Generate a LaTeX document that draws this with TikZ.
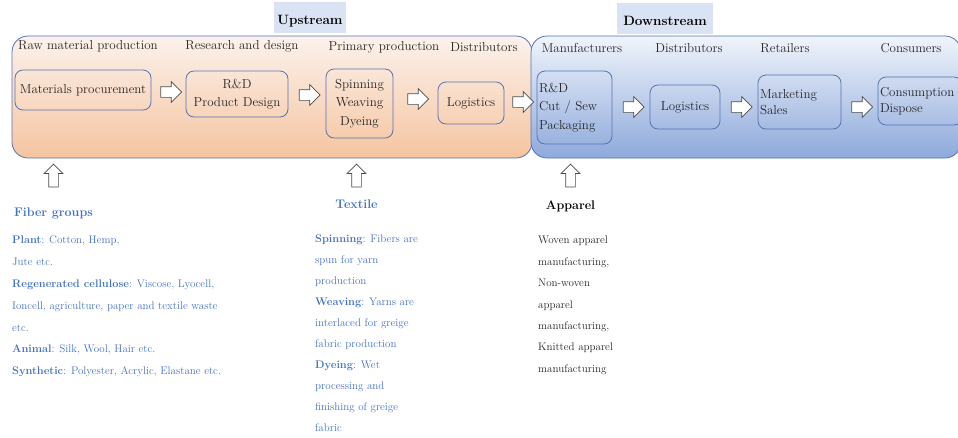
\documentclass[tikz,border=0pt]{standalone}
\usepackage{fontspec}
\usetikzlibrary{shapes.arrows,calc}

\definecolor{boxblue}{RGB}{84,116,178}
\definecolor{txtblue}{RGB}{68,114,196}
\definecolor{tagblue}{RGB}{218,227,243}
\definecolor{peachtop}{RGB}{252,242,236}
\definecolor{peachbot}{RGB}{245,196,160}
\definecolor{bluetop}{RGB}{240,244,251}
\definecolor{bluebot}{RGB}{142,169,219}

\tikzset{
  stream/.style={draw=boxblue,line width=0.8pt,rounded corners=16pt,inner sep=0pt},
  stage/.style={font=\fontsize{13}{16}\selectfont,text=black!85,inner sep=0pt},
  stepbox/.style={draw=boxblue,line width=0.8pt,rounded corners=8pt,align=center,
    text=black!85,font=\fontsize{13}{17.5}\selectfont,inner sep=0pt},
  leftbox/.style={stepbox,align=left,inner xsep=2pt},
  tag/.style={fill=tagblue,font=\bfseries\fontsize{13.5}{17}\selectfont,minimum height=31pt,
    text height=14pt,text depth=0pt},
  flow/.style={single arrow,draw=black!70,fill=white,line width=0.7pt,minimum height=21pt,
    inner sep=5pt,single arrow head extend=5pt},
  feed/.style={flow,shape border rotate=90,minimum height=23pt,inner sep=4.5pt,single arrow head extend=4.5pt},
  head/.style={font=\bfseries\fontsize{12.5}{16}\selectfont,inner sep=0pt},
  list/.style={align=left,anchor=north west,inner sep=0pt,font=\fontsize{11}{21.5}\selectfont}
}

\begin{document}
\begin{tikzpicture}[x=1pt,y=-1pt]
  \useasboundingbox (0,0) rectangle (958,437);

  % upstream and downstream halves
  \node[stream,top color=peachtop,bottom color=peachbot,minimum width=520pt,minimum height=122pt] (up) at (272,97) {};
  \node[stream,top color=bluetop,bottom color=bluebot,minimum width=430pt,minimum height=122pt] (down) at (746,97) {};

  \node[tag,minimum width=72pt] (uptag) at (310,17.5) {Upstream};
  \node[tag,minimum width=96pt] (downtag) at (665,18.5) {Downstream};

  % stages
  \node[stage] (s1) at (88,46) {Raw material production};
  \node[stage] (s2) at (242,46) {Research and design};
  \node[stage] (s3) at (384,47) {Primary production};
  \node[stage] (s4) at (484,47) {Distributors};
  \node[stage] (s5) at (582,48) {Manufacturers};
  \node[stage] (s6) at (689,48) {Distributors};
  \node[stage] (s7) at (785,48) {Retailers};
  \node[stage] (s8) at (911,48) {Consumers};

  % activities
  \node[stepbox,minimum width=136pt,minimum height=40pt] (mat) at (83,90) {Materials procurement};
  \node[stepbox,minimum width=102pt,minimum height=46pt] (rd) at (237,94) {R\&D\\Product Design};
  \node[stepbox,minimum width=67pt,minimum height=69pt,font=\fontsize{13}{18.5}\selectfont] (spin) at (359.5,103.5) {Spinning\\Weaving\\Dyeing};
  \node[stepbox,minimum width=66pt,minimum height=42pt] (log1) at (471,103) {Logistics};
  \node[leftbox,text width=71pt,minimum height=73pt,font=\fontsize{13}{18.5}\selectfont] (rdc) at (574.5,107.5) {R\&D\\Cut / Sew\\Packaging};
  \node[stepbox,minimum width=70pt,minimum height=44pt] (log2) at (685,107) {Logistics};
  \node[leftbox,text width=79pt,minimum height=54pt,font=\fontsize{13}{16.5}\selectfont] (mkt) at (799.5,102) {Marketing\\Sales};
  \node[leftbox,text width=80pt,minimum height=48pt,font=\fontsize{13}{16.5}\selectfont] (cons) at (920,101) {Consumption\\Dispose};

  \foreach \a/\b/\y in {mat/rd/92,rd/spin/95,spin/log1/99,log1/rdc/102,rdc/log2/107,log2/mkt/107,mkt/cons/107}{
    \path ($(\a.east)!0.5!(\b.west)$) coordinate (mid);
    \node[flow] (\a-\b) at (mid |- 0,\y) {};
  }

  % inputs
  \node[head,text=txtblue] (fib) at (53.5,213) {Fiber groups};
  \node[head,text=txtblue] (tex) at (356.5,204) {Textile};
  \node[head] (app) at (570.5,206) {Apparel};

  \foreach \h in {fib,tex,app}
    \node[feed] (\h-up) at (\h.north |- 0,178) {};

  \node[list,text=txtblue,font=\fontsize{11}{21.8}\selectfont] (fibtxt) at (12,236) {\textbf{Plant}: Cotton, Hemp,\\Jute etc.\\\textbf{Regenerated cellulose}: Viscose, Lyocell,\\Ioncell, agriculture, paper and textile waste\\etc.\\\textbf{Animal}: Silk, Wool, Hair etc.\\\textbf{Synthetic}: Polyester, Acrylic, Elastane etc.};
  \node[list,text=txtblue,font=\fontsize{11}{21}\selectfont] (textxt) at (315,235) {\textbf{Spinning}: Fibers are\\spun for yarn\\production\\\textbf{Weaving}: Yarns are\\interlaced for greige\\fabric production\\\textbf{Dyeing}: Wet\\processing and\\finishing of greige\\fabric};
  \node[list,text=black!85,font=\fontsize{11}{21.4}\selectfont] (apptxt) at (538,236) {Woven apparel\\manufacturing,\\Non-woven\\apparel\\manufacturing,\\Knitted apparel\\manufacturing};
\end{tikzpicture}
\end{document}
